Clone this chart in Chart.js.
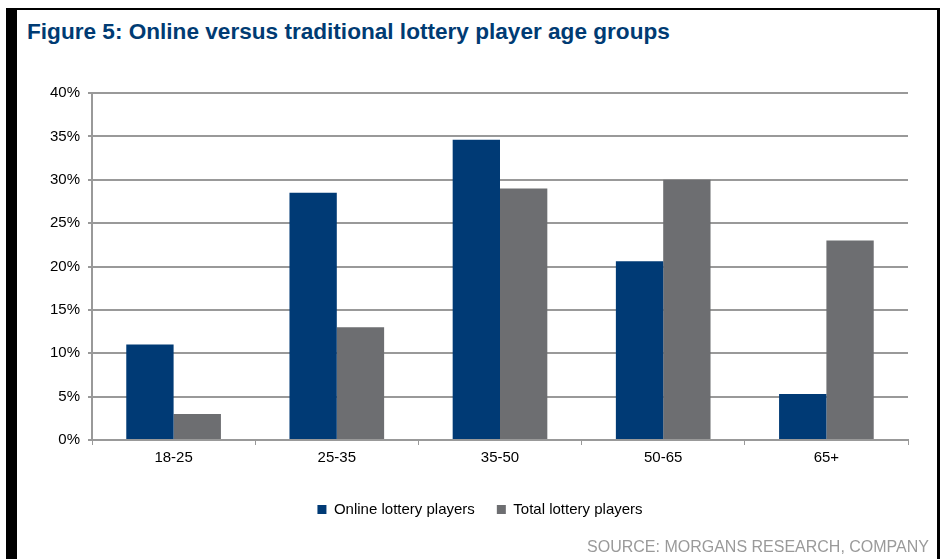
<!DOCTYPE html>
<html>
<head>
<meta charset="utf-8">
<script src="https://cdn.jsdelivr.net/npm/chart.js@4/dist/chart.umd.min.js"></script>
<style>
  html, body { margin: 0; padding: 0; background: #fff; }
  #page { position: relative; width: 946px; height: 559px; overflow: hidden; background: #fff; font-family: Arial, "Liberation Sans", sans-serif; }
  .bl { position: absolute; background: #000; }
  #title { position: absolute; left: 27px; top: 19px; font-size: 22.6px; font-weight: bold; color: #003b73; white-space: nowrap; }
  #source { position: absolute; right: 17px; top: 538px; font-size: 16px; color: #9a9a9a; white-space: nowrap; }
  #wrap { position: absolute; left: 0; top: 0; width: 946px; height: 559px; }
</style>
</head>
<body>
<div id="page">
  <div class="bl" style="left:6px;top:8px;width:11px;height:551px"></div>
  <div class="bl" style="left:6px;top:8px;width:934px;height:2px"></div>
  <div class="bl" style="left:937px;top:8px;width:3px;height:551px"></div>
  <div id="title">Figure 5: Online versus traditional lottery player age groups</div>
  <div id="wrap"><canvas id="chart"></canvas></div>
  <div id="source">SOURCE: MORGANS RESEARCH, COMPANY</div>
</div>
<script>
// age groups and shares (%)
const ageGroups = ['18-25', '25-35', '35-50', '50-65', '65+'];
const onlinePlayers = [11, 28.5, 34.6, 20.6, 5.3];
const totalPlayers = [3, 13, 29, 30, 23];
const yTicks = [0, 5, 10, 15, 20, 25, 30, 35, 40];

const font = { family: 'Arial, "Liberation Sans", sans-serif', size: 15 };

// nudge the legend so it sits centred under the whole figure, like the original
const legendShift = {
  id: 'legendShift',
  afterLayout(chart) {
    chart.legend.left += 16;
    chart.legend.right += 16;
  }
};

const ctx = document.getElementById('chart').getContext('2d');
new Chart(ctx, {
  type: 'bar',
  data: {
    labels: ageGroups,
    datasets: [
      {
        label: 'Online lottery players',
        data: onlinePlayers,
        backgroundColor: '#003a75',
        categoryPercentage: 0.58,
        barPercentage: 1.0
      },
      {
        label: 'Total lottery players',
        data: totalPlayers,
        backgroundColor: '#6d6e71',
        categoryPercentage: 0.58,
        barPercentage: 1.0
      }
    ]
  },
  options: {
    responsive: true,
    maintainAspectRatio: false,
    animation: false,
    layout: { padding: { left: 20, right: 38, top: 93, bottom: 32 } },
    plugins: {
      tooltip: { enabled: false },
      legend: {
        position: 'bottom',
        labels: { boxWidth: 9, boxHeight: 9, padding: 22, color: '#000', font: font }
      }
    },
    scales: {
      x: {
        grid: { display: true, drawOnChartArea: false, drawTicks: true, tickLength: 5, color: '#999', offset: true },
        border: { display: true, color: '#999', width: 2 },
        ticks: { color: '#000', padding: 4, font: font },
        afterFit: (s) => { s.height = 40; }
      },
      y: {
        min: 0,
        max: 40,
        afterBuildTicks: (s) => { s.ticks = yTicks.map(v => ({ value: v })); },
        grid: { color: '#999', lineWidth: 2, drawTicks: true, tickLength: 4 },
        border: { display: true, color: '#999', width: 2 },
        ticks: { color: '#000', padding: 8, font: font, callback: (v) => v + '%' },
        afterFit: (s) => { s.width = 72; }
      }
    }
  },
  plugins: [legendShift]
});
</script>
</body>
</html>
